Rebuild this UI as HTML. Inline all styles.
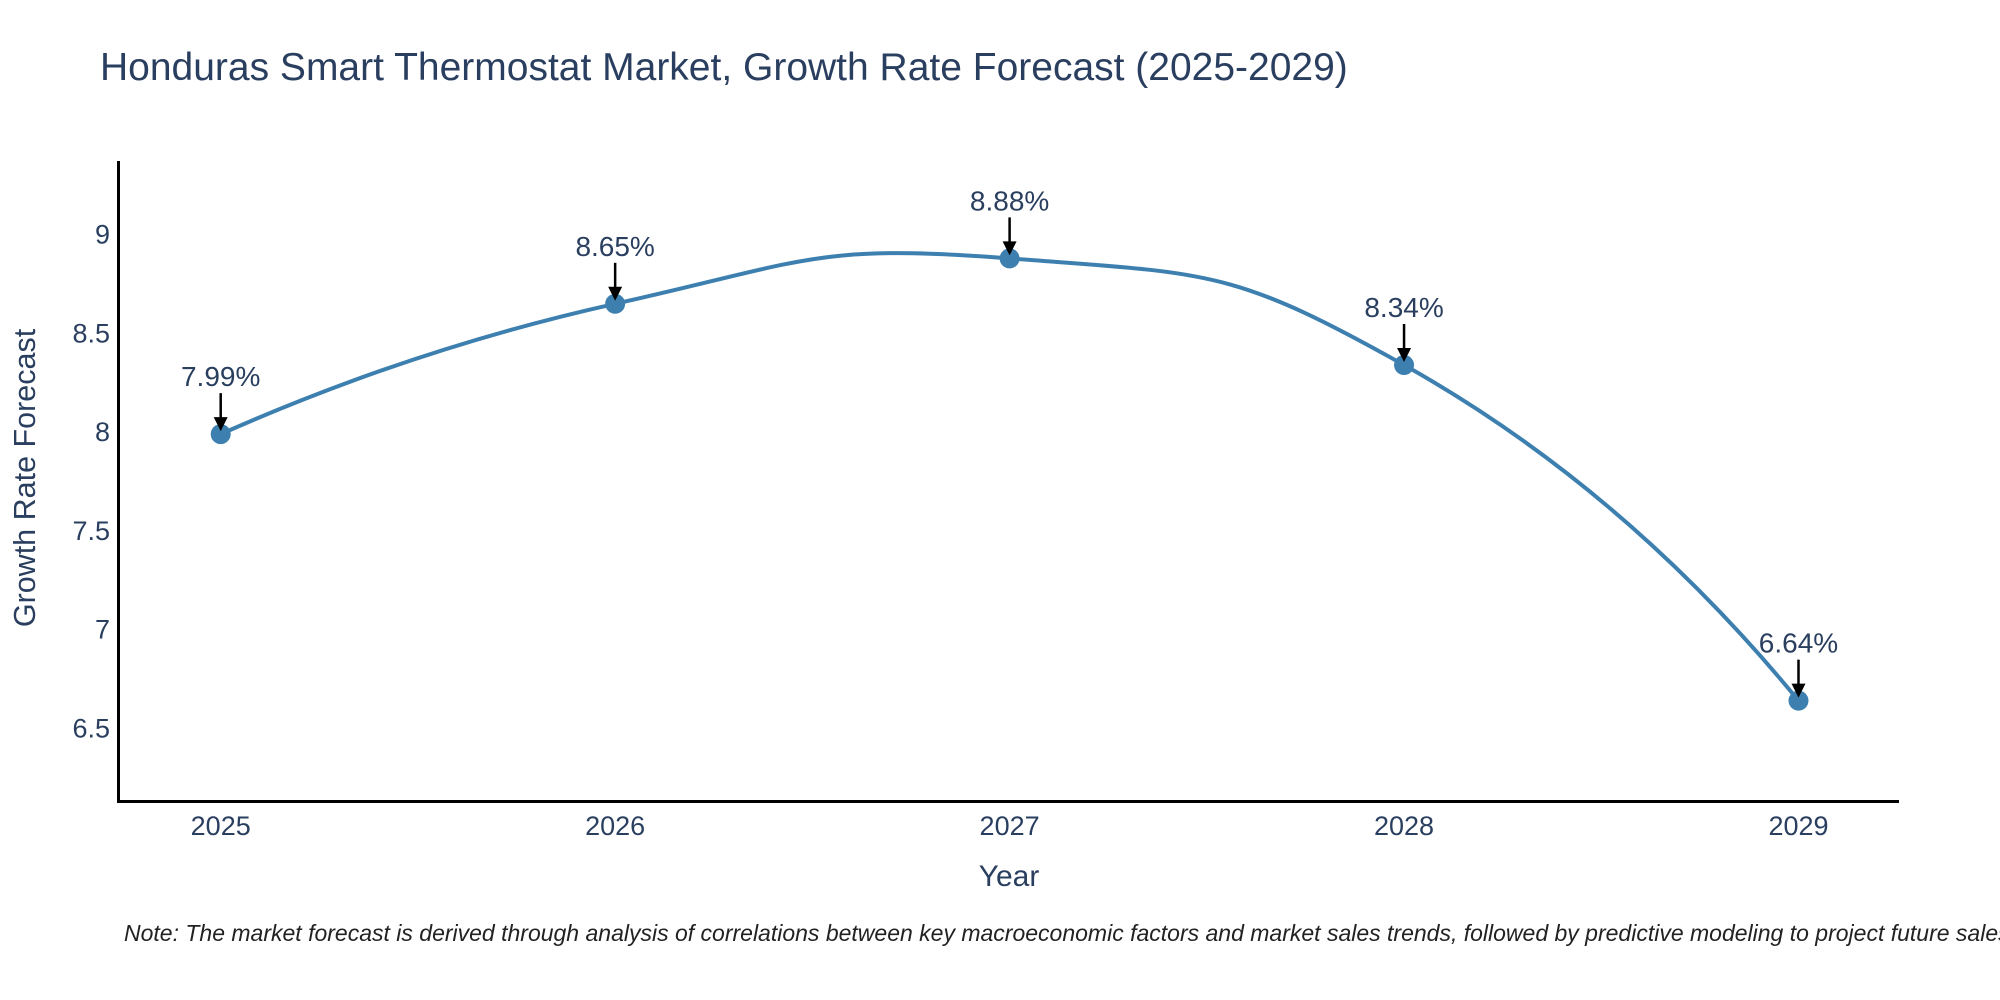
<!DOCTYPE html>
<html><head><meta charset="utf-8"><style>
html,body{margin:0;padding:0;background:#fff;}
svg{display:block;font-family:"Liberation Sans",Arial,sans-serif;}
</style></head><body>
<svg id="chart" width="2000" height="1000" viewBox="0 0 2000 1000">
<text x="100" y="80" font-size="39" fill="#2a3f5f">Honduras Smart Thermostat Market, Growth Rate Forecast (2025-2029)</text>
<g id="yticks"></g>
<g id="xticks"></g>
<line x1="118.5" y1="161" x2="118.5" y2="802" stroke="#000" stroke-width="3"/>
<line x1="117" y1="801.5" x2="1899" y2="801.5" stroke="#000" stroke-width="3"/>
<path id="line" fill="none" stroke="#3d80b0" stroke-width="4"/>
<g id="points"></g>
<g id="annots"></g>
<text x="1009" y="886" font-size="30" fill="#2a3f5f" text-anchor="middle">Year</text>
<text transform="translate(35,478) rotate(-90)" font-size="30.5" fill="#2a3f5f" text-anchor="middle">Growth Rate Forecast</text>
<text x="124" y="941" font-size="23" font-style="italic" fill="#222">Note: The market forecast is derived through analysis of correlations between key macroeconomic factors and market sales trends, followed by predictive modeling to project future sales.</text>
</svg>
<script>
const years = [2025, 2026, 2027, 2028, 2029];
const rates = [7.99, 8.65, 8.88, 8.34, 6.64];
const yTickValues = [6.5, 7, 7.5, 8, 8.5, 9];
const yTickLabels = ["6.5", "7", "7.5", "8", "8.5", "9"];
const NS = "http://www.w3.org/2000/svg";
const xScale = v => 220.7 + (v - 2025) * (1798.5 - 220.7) / 4;
const yScale = v => 728.3 - (v - 6.5) * (728.3 - 234.7) / 2.5;
function mk(tag, attrs, parent, txt) {
  const e = document.createElementNS(NS, tag);
  for (const k in attrs) e.setAttribute(k, attrs[k]);
  if (txt !== undefined) e.textContent = txt;
  parent.appendChild(e);
  return e;
}
const yt = document.getElementById('yticks');
yTickValues.forEach((v, i) => {
  const t = mk('text', {x: 110, y: yScale(v) + 9, 'font-size': 27, fill: '#2a3f5f', 'text-anchor': 'end'}, yt, yTickLabels[i]);
  
  
});
const xt = document.getElementById('xticks');
years.forEach(v => {
  const t = mk('text', {x: xScale(v), y: 835, 'font-size': 27, fill: '#2a3f5f', 'text-anchor': 'middle'}, xt, String(v));
  
  
});
const pts = years.map((y, i) => [xScale(y), yScale(rates[i])]);
const dist = (a, b) => Math.hypot(a[0] - b[0], a[1] - b[1]);
const cps = [];
const s = 0.5;
for (let i = 1; i < pts.length - 1; i++) {
  const a = pts[i - 1], p = pts[i], b = pts[i + 1];
  const da = dist(a, p), db = dist(p, b);
  const T = [b[0] - a[0], b[1] - a[1]];
  cps[i] = {
    back: [p[0] - T[0] * s * da / (da + db), p[1] - T[1] * s * da / (da + db)],
    fwd: [p[0] + T[0] * s * db / (da + db), p[1] + T[1] * s * db / (da + db)]
  };
}
const n = pts.length;
let d = 'M' + pts[0] + ' Q' + cps[1].back + ' ' + pts[1];
for (let i = 1; i < n - 2; i++) {
  d += ' C' + cps[i].fwd + ' ' + cps[i + 1].back + ' ' + pts[i + 1];
}
d += ' Q' + cps[n - 2].fwd + ' ' + pts[n - 1];
document.getElementById('line').setAttribute('d', d);
const pg = document.getElementById('points'), ag = document.getElementById('annots');
pts.forEach((p, i) => {
  const c = mk('circle', {cx: p[0], cy: p[1], r: 10, fill: '#3d80b0'}, pg);
  
  
  const l = mk('line', {x1: p[0], y1: p[1] - 41, x2: p[0], y2: p[1] - 14, stroke: '#000', 'stroke-width': 2.5}, ag);
  
  
  const h = mk('path', {d: `M${p[0]-7},${p[1]-17} L${p[0]+7},${p[1]-17} L${p[0]},${p[1]-3} Z`, fill: '#000'}, ag);
  
  
  const t = mk('text', {x: p[0], y: p[1] - 48, 'font-size': 28, fill: '#2a3f5f', 'text-anchor': 'middle'}, ag, rates[i].toFixed(2) + '%');
  
  
});
</script>
</body></html>
